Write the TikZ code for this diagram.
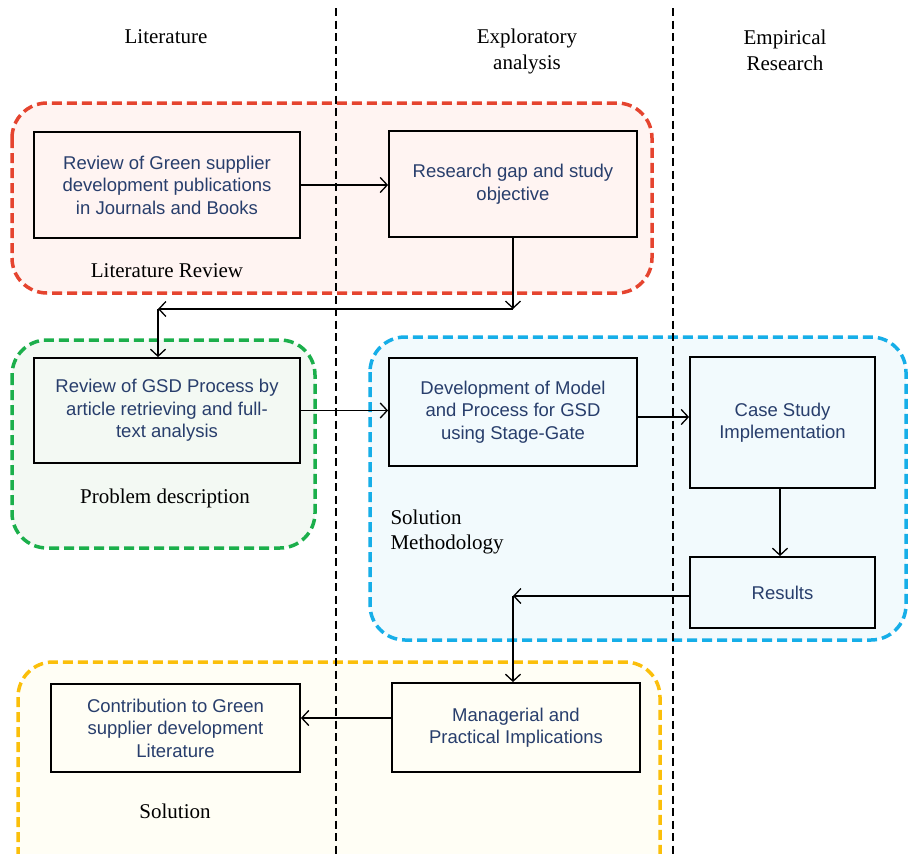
\documentclass[tikz,border=0pt]{standalone}
\usepackage{fontspec}
\setmainfont{Liberation Serif}
\setsansfont{Liberation Sans}
\usetikzlibrary{arrows.meta,calc}

\definecolor{boxtext}{RGB}{40,62,108}
\definecolor{redline}{RGB}{229,68,47}
\definecolor{redfill}{RGB}{255,244,242}
\definecolor{greenline}{RGB}{27,175,75}
\definecolor{greenfill}{RGB}{243,249,243}
\definecolor{blueline}{RGB}{22,174,232}
\definecolor{bluefill}{RGB}{242,250,253}
\definecolor{yellowline}{RGB}{251,191,10}
\definecolor{yellowfill}{RGB}{255,254,245}

\tikzset{
  region/.style={line width=3.5pt, dash pattern=on 10pt off 5pt, rounded corners=35pt},
  divider/.style={line width=2.8pt, dash pattern=on 8pt off 4.5pt},
  stepbox/.style={draw=black, line width=1.8pt, align=center, inner sep=0pt,
    text=boxtext, font=\sffamily\fontsize{18.5}{22.5}\selectfont},
  heading/.style={align=center, font=\fontsize{21}{26}\selectfont},
  grouplabel/.style={font=\fontsize{21}{25}\selectfont},
  flow/.style={line width=1.3pt, -{Straight Barb[length=7pt,width=15pt,line width=1.3pt]}}
}

\begin{document}
\begin{tikzpicture}[x=1pt,y=-1pt]
\useasboundingbox (0,0) rectangle (908,854);
\clip (0,0) rectangle (908,854);

% group frames
\draw[region, draw=redline, fill=redfill] (12,103) rectangle (652,293);
\draw[region, draw=greenline, fill=greenfill] (12,340) rectangle (315,548);
\draw[region, draw=blueline, fill=bluefill] (370,337) rectangle (906,640);
\draw[region, draw=yellowline, fill=yellowfill] (18,662) rectangle (660,890);

% column dividers
\draw[divider] (336,8) -- (336,854);
\draw[divider] (673,8) -- (673,854);

% column headings
\node[heading] (hlit) at (166,37) {Literature};
\node[heading] (hexp) at (527,51) {Exploratory\\analysis};
\node[heading] (hemp) at (785,50) {Empirical\\Research};

% steps
\node[stepbox, minimum width=266pt, minimum height=106pt] (b1) at (167,185)
  {Review of Green supplier\\development publications\\in Journals and Books};
\node[stepbox, minimum width=248pt, minimum height=106pt] (b2) at (513,184)
  {Research gap and study\\objective};
\node[stepbox, minimum width=266pt, minimum height=105pt] (b3) at (167,410.5)
  {Review of GSD Process by\\article retrieving and full-\\text analysis};
\node[stepbox, minimum width=248pt, minimum height=108pt] (b4) at (513,412)
  {Development of Model\\and Process for GSD\\using Stage-Gate};
\node[stepbox, minimum width=185pt, minimum height=131pt] (b5) at (782.5,422.5)
  {Case Study\\Implementation};
\node[stepbox, minimum width=185pt, minimum height=71pt] (b6) at (782.5,592.5)
  {Results};
\node[stepbox, minimum width=249pt, minimum height=88pt] (b7) at (175.5,728)
  {Contribution to Green\\supplier development\\Literature};
\node[stepbox, minimum width=248pt, minimum height=89pt] (b8) at (516,727.5)
  {Managerial and\\Practical Implications};

% group labels
\node[grouplabel] (lrev) at (167,271) {Literature Review};
\node[grouplabel] (lprob) at (165,498) {Problem description};
\node[grouplabel, align=left, anchor=west] (lsol) at (387,531.5) {Solution\\Methodology};
\node[grouplabel] (lsolu) at (175,811) {Solution};

% bend points
\coordinate (ca) at (513,309);
\coordinate (cb) at (158,309);
\coordinate (cc) at (513,596);

% connectors
\draw[flow] (b1.east) -- (b1.east -| b2.west);
\draw[flow] (b2.south -| ca) -- (ca);
\draw[flow] (ca) -- (cb);
\draw[flow] (cb) -- (cb |- b3.north);
\draw[flow] (b3.east) -- (b3.east -| b4.west);
\draw[flow] ($(b4.east)+(0,5)$) -- ($(b4.east -| b5.west)+(0,5)$);
\draw[flow] (780,0 |- b5.south) -- (780,0 |- b6.north);
\draw[flow] (b6.west |- cc) -- (cc);
\draw[flow] (cc) -- (cc |- b8.north);
\draw[flow] ($(b8.west)+(0,-9.5)$) -- ($(b8.west -| b7.east)+(0,-9.5)$);
\end{tikzpicture}
\end{document}
